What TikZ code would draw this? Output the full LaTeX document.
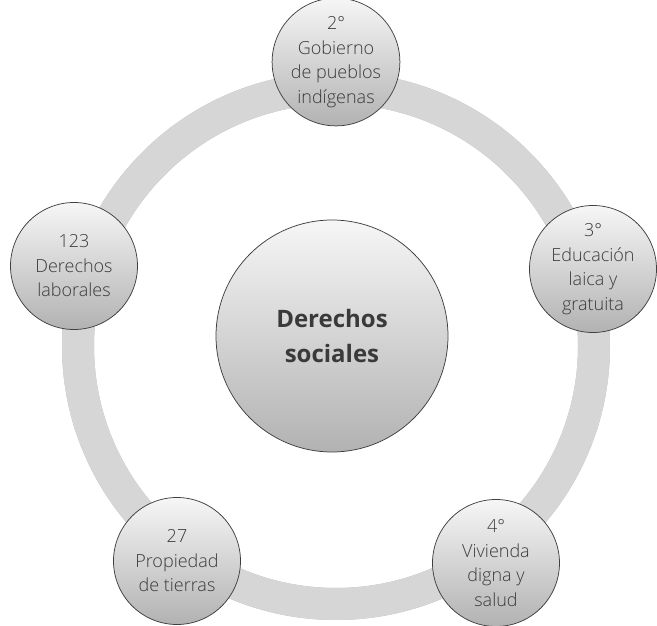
\documentclass[tikz,border=0pt]{standalone}
\usepackage{fontspec}
\setmainfont{Open Sans}
\newfontfamily\lightfont{Open Sans Light}
\definecolor{ringgray}{HTML}{D6D6D6}
\definecolor{edgegray}{HTML}{404040}
\definecolor{txtgray}{HTML}{3A3A3A}
\definecolor{topg}{HTML}{F6F6F6}
\definecolor{botg}{HTML}{B2B2B2}
\tikzset{
  bubble/.style={circle, draw=edgegray, line width=0.75pt, top color=topg, bottom color=botg,
    minimum size=127pt, inner sep=0pt, align=center, text=txtgray,
    font=\lightfont\fontsize{18}{24.5}\selectfont},
  hub/.style={circle, draw=edgegray, line width=0.75pt, top color=topg, bottom color=botg,
    minimum size=232pt, inner sep=0pt, align=center, text=txtgray,
    font=\fontsize{24}{35}\selectfont\bfseries}
}
\begin{document}
\begin{tikzpicture}[x=1pt,y=-1pt]
\useasboundingbox (0,0) rectangle (657,626);
\fill[white] (0,0) rectangle (657,626);
\coordinate (c) at (336,346);
% ring shadow (soft, offset downward)
\foreach \s/\o in {1/0.10,2.5/0.08,4/0.06,5.5/0.04,7/0.025}{
  \fill[black, opacity=\o, even odd rule, yshift=-\s pt] (c) circle (274pt) (c) circle (242pt);
}
% ring
\fill[ringgray, even odd rule] (c) circle (274pt) (c) circle (242pt);
% central node
\node[hub] (hub) at (332,336) {Derechos\\sociales};
% outer nodes
\node[bubble] (n2) at (336,62) {2°\\Gobierno\\de pueblos\\indígenas};
\node[bubble] (n3) at (593,269) {3°\\Educación\\laica y\\gratuita};
\node[bubble] (n4) at (496,563) {4°\\Vivienda\\digna y\\salud};
\node[bubble] (n27) at (177,561) {27\\Propiedad\\de tierras};
\node[bubble] (n123) at (74,266) {123\\Derechos\\laborales};
\end{tikzpicture}
\end{document}
